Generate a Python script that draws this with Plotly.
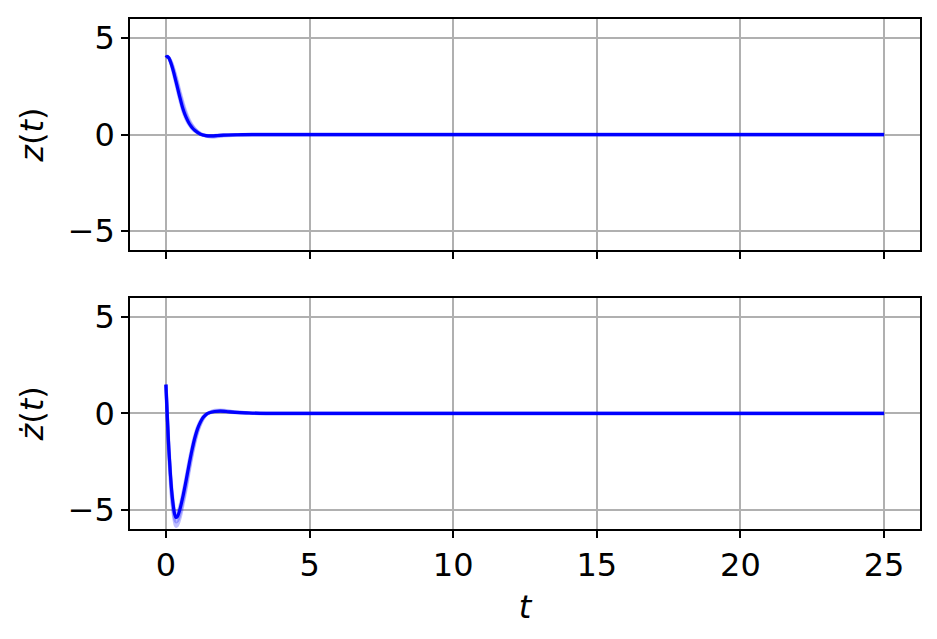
from plotly.subplots import make_subplots
import plotly.graph_objs as go

# time samples
t_z = [0.0, 0.05, 0.1, 0.2, 0.3, 0.4, 0.5, 0.6, 0.7, 0.8, 0.9, 1.0, 1.2,
       1.4, 1.6, 1.8, 2.0, 2.5, 3.0, 4.0, 25.0]
z_main = [4.0, 4.05, 3.98, 3.6, 3.05, 2.45, 1.85, 1.3, 0.9, 0.6, 0.38, 0.22,
          0.02, -0.06, -0.07, -0.05, -0.03, -0.01, 0.0, 0.0, 0.0]
z_faint = [
    [4.0, 4.06, 4.0, 3.72, 3.26, 2.72, 2.14, 1.6, 1.14, 0.78, 0.51, 0.31,
     0.05, -0.08, -0.12, -0.1, -0.06, -0.02, 0.0, 0.0, 0.0],
    [4.0, 4.05, 3.99, 3.66, 3.16, 2.59, 2.0, 1.46, 1.02, 0.69, 0.45, 0.27,
     0.03, -0.07, -0.1, -0.08, -0.04, -0.015, 0.0, 0.0, 0.0],
    [4.0, 4.04, 3.97, 3.55, 2.96, 2.34, 1.74, 1.2, 0.82, 0.54, 0.34, 0.19,
     0.01, -0.05, -0.06, -0.04, -0.02, -0.01, 0.0, 0.0, 0.0],
]

t_dz = [0.0, 0.05, 0.1, 0.15, 0.2, 0.25, 0.3, 0.35, 0.4, 0.5, 0.6, 0.7, 0.8,
        0.9, 1.0, 1.1, 1.2, 1.3, 1.4, 1.5, 1.7, 1.9, 2.1, 2.4, 2.8, 3.5, 25.0]
dz_main = [1.5, -0.2, -1.8, -3.0, -4.0, -4.7, -5.2, -5.4, -5.35, -4.9, -4.25,
           -3.5, -2.7, -1.95, -1.3, -0.8, -0.45, -0.2, -0.05, 0.03, 0.1, 0.12,
           0.1, 0.06, 0.03, 0.0, 0.0]
dz_faint = [
    [1.5, -0.3, -2.0, -3.3, -4.4, -5.1, -5.6, -5.85, -5.8, -5.35, -4.65,
     -3.9, -3.05, -2.25, -1.55, -0.98, -0.57, -0.26, -0.07, 0.04, 0.15, 0.17,
     0.14, 0.08, 0.04, 0.0, 0.0],
    [1.5, -0.25, -1.9, -3.15, -4.2, -4.9, -5.4, -5.62, -5.57, -5.12, -4.47,
     -3.72, -2.88, -2.12, -1.44, -0.9, -0.51, -0.23, -0.06, 0.035, 0.12, 0.14,
     0.11, 0.07, 0.03, 0.0, 0.0],
    [1.5, -0.15, -1.7, -2.9, -3.85, -4.55, -5.05, -5.25, -5.2, -4.75, -4.1,
     -3.35, -2.55, -1.82, -1.2, -0.72, -0.4, -0.17, -0.04, 0.03, 0.09, 0.1,
     0.08, 0.05, 0.02, 0.0, 0.0],
]

x_ticks = [0, 5, 10, 15, 20, 25]
y_ticks = [-5, 0, 5]

FONT = "DejaVu Sans"
FSIZE = 32

fig = make_subplots(rows=2, cols=1, shared_xaxes=True,
                    vertical_spacing=48 / 512)

for row, t, main, faint in [(1, t_z, z_main, z_faint),
                            (2, t_dz, dz_main, dz_faint)]:
    for f in faint:
        fig.add_trace(go.Scatter(x=t, y=f, mode="lines", line_shape="spline",
                                 line=dict(color="rgba(0,0,255,0.25)", width=3.5),
                                 showlegend=False, hoverinfo="skip"),
                      row=row, col=1)
    fig.add_trace(go.Scatter(x=t, y=main, mode="lines", line_shape="spline",
                             line=dict(color="#0000ff", width=3.2),
                             showlegend=False),
                  row=row, col=1)

axis_style = dict(
    showline=True, mirror=True, linecolor="black", linewidth=1.6,
    ticks="outside", ticklen=7, tickwidth=1.6, tickcolor="black",
    showgrid=True, gridcolor="#b0b0b0", gridwidth=1.6, zeroline=False,
    tickfont=dict(family=FONT, size=FSIZE, color="black"),
)

fig.update_xaxes(range=[-1.25, 26.25], tickvals=x_ticks, **axis_style)
fig.update_yaxes(range=[-6, 6], tickvals=y_ticks, **axis_style)
fig.update_xaxes(showticklabels=False, row=1, col=1)
fig.update_xaxes(title=dict(text="<i>t</i>", standoff=12,
                            font=dict(family=FONT, size=FSIZE, color="black")),
                 row=2, col=1)
fig.update_yaxes(title=dict(text="<i>z</i>(<i>t</i>)", standoff=14,
                            font=dict(family=FONT, size=FSIZE, color="black")),
                 row=1, col=1)
fig.update_yaxes(title=dict(text="<i>ż</i>(<i>t</i>)", standoff=14,
                            font=dict(family=FONT, size=FSIZE, color="black")),
                 row=2, col=1)

# page body adds an 8px offset, so margins are shifted to compensate
fig.update_layout(
    width=937, height=639,
    margin=dict(l=122, r=25, t=9, b=118),
    plot_bgcolor="white", paper_bgcolor="white",
    font=dict(family=FONT, color="black"),
)

fig.write_html("out.html")
